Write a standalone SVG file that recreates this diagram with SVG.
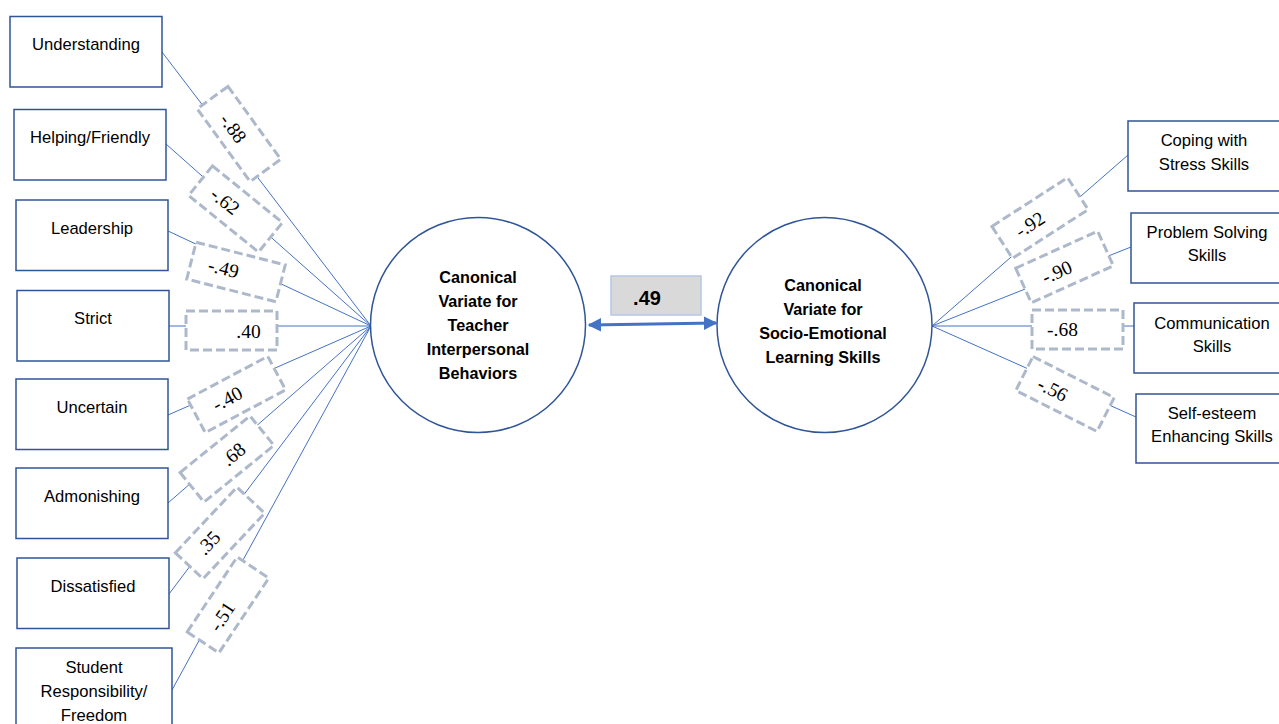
<svg xmlns="http://www.w3.org/2000/svg" width="1279" height="724" viewBox="0 0 1279 724">
<style>
.node{fill:#fff;stroke:#2F5597;stroke-width:1.5}
.lbl{font-family:"Liberation Sans",Arial,sans-serif;font-size:16.6px;fill:#000;text-anchor:middle}
.cv{font-family:"Liberation Sans",Arial,sans-serif;font-size:16.2px;font-weight:bold;fill:#000;text-anchor:middle}
.con{stroke:#4472C4;stroke-width:1;fill:none}
.db{fill:#fff;stroke:#ADB9CA;stroke-width:3;stroke-dasharray:9 4}
.num{font-family:"Liberation Serif","Times New Roman",serif;font-size:19.5px;fill:#000;text-anchor:middle}
</style>
<defs>
<marker id="ah" viewBox="0 0 10 10" refX="9" refY="5" markerWidth="4.5" markerHeight="4.5" orient="auto-start-reverse" markerUnits="strokeWidth">
<path d="M0,0 L10,5 L0,10 z" fill="#4472C4"/>
</marker>
</defs>
<rect width="1279" height="724" fill="#fff"/>
<g id="connectors">
<line class="con" x1="162" y1="52" x2="371" y2="326"/>
<line class="con" x1="166" y1="144" x2="371" y2="326"/>
<line class="con" x1="168" y1="231" x2="371" y2="326"/>
<line class="con" x1="169" y1="326" x2="371" y2="326"/>
<line class="con" x1="168" y1="415" x2="371" y2="326"/>
<line class="con" x1="168" y1="503" x2="371" y2="326"/>
<line class="con" x1="169" y1="594" x2="371" y2="326"/>
<line class="con" x1="172" y1="690" x2="371" y2="326"/>
<line class="con" x1="1128" y1="155" x2="932" y2="326"/>
<line class="con" x1="1131" y1="247" x2="932" y2="326"/>
<line class="con" x1="1134" y1="326" x2="932" y2="326"/>
<line class="con" x1="1136" y1="417" x2="932" y2="326"/>
<line x1="589" y1="325" x2="716" y2="323" stroke="#4472C4" stroke-width="3" marker-start="url(#ah)" marker-end="url(#ah)"/>
<g transform="translate(239,134) rotate(54)"><rect class="db" x="-45" y="-19" width="90" height="38"/><text class="num" x="-8" y="8">-.88</text></g>
<g transform="translate(235.5,209) rotate(39)"><rect class="db" x="-45" y="-19" width="90" height="38"/><text class="num" x="-13" y="7">-.62</text></g>
<g transform="translate(236,272) rotate(14.3)"><rect class="db" x="-46" y="-19" width="92" height="38"/><text class="num" x="-13" y="6">-.49</text></g>
<g transform="translate(231.5,330.5)"><rect class="db" x="-45.5" y="-19.5" width="91" height="39"/><text class="num" x="17" y="7">.40</text></g>
<g transform="translate(236.5,394.5) rotate(-28)"><rect class="db" x="-45.5" y="-19" width="91" height="38"/><text class="num" x="-10" y="6">-.40</text></g>
<g transform="translate(227,459) rotate(-39)"><rect class="db" x="-45" y="-19" width="90" height="38"/><text class="num" x="8" y="7">.68</text></g>
<g transform="translate(220,533) rotate(-46.8)"><rect class="db" x="-45" y="-19" width="90" height="38"/><text class="num" x="-15" y="5">.35</text></g>
<g transform="translate(228,605) rotate(-56.3)"><rect class="db" x="-45" y="-19" width="90" height="38"/><text class="num" x="-13" y="8">-.51</text></g>
<g transform="translate(1040,218) rotate(-32.8)"><rect class="db" x="-45" y="-19" width="90" height="38"/><text class="num" x="-12" y="6.5">-.92</text></g>
<g transform="translate(1064.5,267) rotate(-24.3)"><rect class="db" x="-45" y="-19" width="90" height="38"/><text class="num" x="-9" y="8">-.90</text></g>
<g transform="translate(1077.5,329.5)"><rect class="db" x="-45.5" y="-19.5" width="91" height="39"/><text class="num" x="-15" y="6.5">-.68</text></g>
<g transform="translate(1065,394) rotate(26.8)"><rect class="db" x="-45.5" y="-19" width="91" height="38"/><text class="num" x="-13" y="8">-.56</text></g>
<g id="corr">
<rect x="611" y="276" width="90" height="39" fill="#D9D9D9" stroke="#B4C7E7" stroke-width="1.5"/>
<text x="647" y="305" font-family="'Liberation Sans',Arial,sans-serif" font-size="20" font-weight="bold" text-anchor="middle">.49</text>
</g>
</g>
<g id="n-understanding"><rect class="node" x="10" y="16.5" width="152" height="70.5"/><text class="lbl" x="86" y="50">Understanding</text></g>
<g id="n-helping"><rect class="node" x="14" y="109.5" width="152" height="70.5"/><text class="lbl" x="90" y="143">Helping/Friendly</text></g>
<g id="n-leadership"><rect class="node" x="16" y="200" width="152" height="70.5"/><text class="lbl" x="92" y="234">Leadership</text></g>
<g id="n-strict"><rect class="node" x="17" y="290.5" width="152" height="70.5"/><text class="lbl" x="93" y="324">Strict</text></g>
<g id="n-uncertain"><rect class="node" x="16" y="379" width="152" height="70.5"/><text class="lbl" x="92" y="413">Uncertain</text></g>
<g id="n-admonishing"><rect class="node" x="16" y="468" width="152" height="70.5"/><text class="lbl" x="92" y="502">Admonishing</text></g>
<g id="n-dissatisfied"><rect class="node" x="17" y="558" width="152" height="70.5"/><text class="lbl" x="93" y="592">Dissatisfied</text></g>
<g id="n-student"><rect class="node" x="16" y="648" width="156" height="90"/><text class="lbl" x="94" y="673">Student</text><text class="lbl" x="94" y="697">Responsibility/</text><text class="lbl" x="94" y="721">Freedom</text></g>
<g id="n-teacher"><circle class="node" cx="478" cy="325" r="107.5"/>
<text class="cv" x="478" y="283">Canonical</text><text class="cv" x="478" y="307">Variate for</text><text class="cv" x="478" y="331">Teacher</text><text class="cv" x="478" y="355">Interpersonal</text><text class="cv" x="478" y="379">Behaviors</text></g>
<g id="n-sel"><circle class="node" cx="824.5" cy="325" r="107.5"/>
<text class="cv" x="823" y="291">Canonical</text><text class="cv" x="823" y="315">Variate for</text><text class="cv" x="823" y="339">Socio-Emotional</text><text class="cv" x="823" y="363">Learning Skills</text></g>
<g id="n-coping"><rect class="node" x="1128" y="121" width="154" height="70"/><text class="lbl" x="1204" y="146">Coping with</text><text class="lbl" x="1204" y="170">Stress Skills</text></g>
<g id="n-problem"><rect class="node" x="1131" y="213" width="154" height="70"/><text class="lbl" x="1207" y="238">Problem Solving</text><text class="lbl" x="1207" y="261">Skills</text></g>
<g id="n-communication"><rect class="node" x="1134" y="303" width="154" height="70"/><text class="lbl" x="1212" y="329">Communication</text><text class="lbl" x="1212" y="352">Skills</text></g>
<g id="n-selfesteem"><rect class="node" x="1136" y="394" width="154" height="69"/><text class="lbl" x="1212" y="419">Self-esteem</text><text class="lbl" x="1212" y="442">Enhancing Skills</text></g>
</svg>
